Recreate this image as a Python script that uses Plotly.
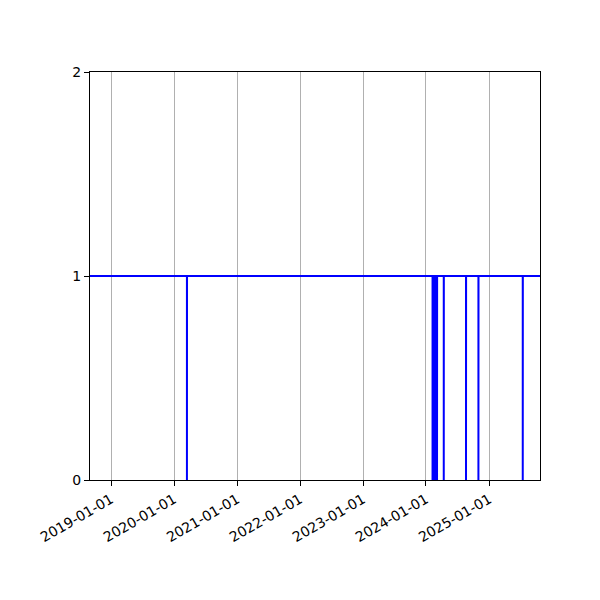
import pandas as pd
import plotly.graph_objects as go

# days the status dropped to 0
drop_dates = ["2020-03-16", "2024-02-08", "2024-02-16", "2024-02-25", "2024-03-05",
              "2024-04-13", "2024-08-20", "2024-10-31", "2025-07-15"]
start_date = "2018-09-01"
end_date = "2025-10-23"
tick_dates = ["2019-01-01", "2020-01-01", "2021-01-01", "2022-01-01",
              "2023-01-01", "2024-01-01", "2025-01-01"]
y_ticks = [0, 1, 2]

# build the status series: 1 everywhere, 0 on each drop day
dates = [pd.Timestamp(start_date)]
values = [1]
for d in drop_dates:
    t = pd.Timestamp(d)
    dates += [t, t, t + pd.Timedelta(hours=12)]
    values += [1, 0, 1]
dates.append(pd.Timestamp(end_date))
values.append(1)

fig = go.Figure()
fig.add_trace(go.Scatter(x=dates, y=values, mode="lines",
                         line=dict(color="blue", width=2), hoverinfo="skip"))

# page body adds an 8px offset, so margins are shifted to compensate
fig.update_layout(
    width=600, height=600,
    margin=dict(l=82, r=68, t=64, b=128),
    paper_bgcolor="white", plot_bgcolor="white",
    showlegend=False,
    font=dict(family="DejaVu Sans", size=13, color="black"),
)
fig.update_xaxes(
    range=[start_date, end_date],
    tickvals=tick_dates, ticktext=tick_dates,
    tickangle=-30, tickfont=dict(size=14),
    showgrid=True, gridcolor="#b0b0b0", gridwidth=1,
    showline=True, linecolor="black", linewidth=1, mirror=True,
    ticks="outside", ticklen=5, tickcolor="black",
    zeroline=False,
)
fig.update_yaxes(
    range=[0, 2], tickvals=y_ticks, tickfont=dict(size=14),
    showgrid=False,
    showline=True, linecolor="black", linewidth=1, mirror=True,
    ticks="outside", ticklen=5, tickcolor="black",
    zeroline=False,
)

fig.write_html("out.html")
